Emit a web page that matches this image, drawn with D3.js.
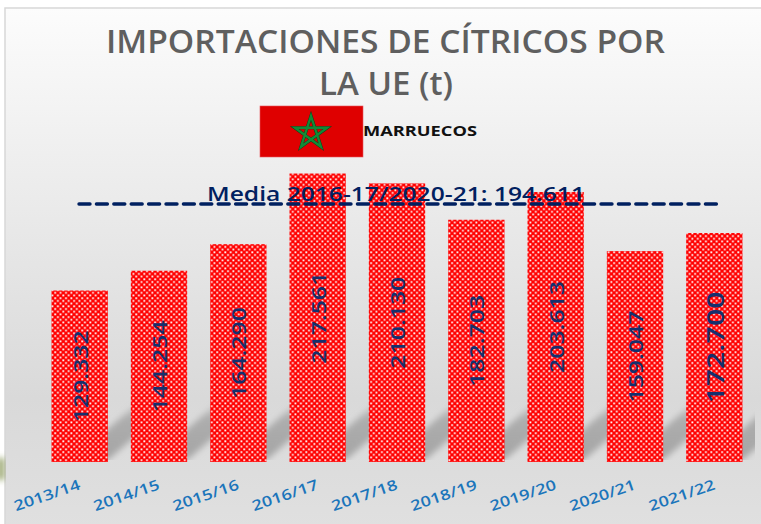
<!DOCTYPE html>
<html><head><meta charset="utf-8">
<script src="https://cdn.jsdelivr.net/npm/d3@7"></script>
<style>html,body{margin:0;padding:0;background:#fff;overflow:hidden}svg{display:block}
text{font-family:"Open Sans",sans-serif}</style></head>
<body><svg id="c" width="761" height="524"></svg>
<script>
const categories=["2013/14","2014/15","2015/16","2016/17","2017/18","2018/19","2019/20","2020/21","2021/22"];
const values=[129332,144254,164290,217561,210130,182703,203613,159047,172700];
const valueLabels=["129.332","144.254","164.290","217.561","210.130","182.703","203.613","159.047","172.700"];
const mediaValue=194611;
const mediaLabel="Media 2016-17/2020-21: 194.611";
const titleLines=["IMPORTACIONES DE CÍTRICOS POR","LA UE (t)"];
const countryLabel="MARRUECOS";

const svg=d3.select("#c");
const defs=svg.append("defs");
const bg=defs.append("linearGradient").attr("id","bg").attr("x1",0).attr("x2",0).attr("y1",0).attr("y2",1);
bg.append("stop").attr("offset","0").attr("stop-color","#fcfcfc");
bg.append("stop").attr("offset","0.75").attr("stop-color","#d9d9d9");
bg.append("stop").attr("offset","1").attr("stop-color","#e0e0e0");
const pat=defs.append("pattern").attr("id","dots").attr("patternUnits","userSpaceOnUse").attr("width",5.4).attr("height",5.4);
pat.append("rect").attr("width",5.4).attr("height",5.4).attr("fill","#ff0000");
pat.append("rect").attr("x",0.3).attr("y",0.3).attr("width",1.8).attr("height",1.8).attr("fill","#fff");
pat.append("rect").attr("x",3).attr("y",3).attr("width",1.8).attr("height",1.8).attr("fill","#fff");
defs.append("filter").attr("id","blur").attr("x","-30%").attr("y","-30%").attr("width","160%").attr("height","160%")
  .append("feGaussianBlur").attr("stdDeviation",3);
const sg=defs.append("linearGradient").attr("id","sh").attr("x1",0).attr("x2",0).attr("y1",1).attr("y2",0);
sg.append("stop").attr("offset","0").attr("stop-color","#a2a2a2").attr("stop-opacity",.95);
sg.append("stop").attr("offset","0.7").attr("stop-color","#a2a2a2").attr("stop-opacity",.8);
sg.append("stop").attr("offset","1").attr("stop-color","#a2a2a2").attr("stop-opacity",.1);
defs.append("clipPath").attr("id","shclip").append("rect").attr("x",5).attr("y",380).attr("width",750).attr("height",80);

// panel
svg.append("rect").attr("x",5).attr("y",8).attr("width",760).attr("height",520)
  .attr("fill","url(#bg)").attr("stroke","#d8d8d8").attr("stroke-width",1.5);

const x=d3.scaleBand().domain(categories).range([40,754]).paddingInner(0.29).paddingOuter(0.145);
const y=d3.scaleLinear().domain([0,220000]).range([462,170.3]);

// floor shadows
const sdx=70, sdy=60;
svg.append("g").attr("clip-path","url(#shclip)").selectAll("path").data(categories).join("path")
  .attr("d",c=>{const b=x(c)+20,a=x(c)+x.bandwidth();
    return `M${b},${y(0)-2}L${a},${y(0)-2}L${a+sdx},${y(0)-2-sdy}L${b+sdx},${y(0)-2-sdy}Z`;})
  .attr("fill","url(#sh)").attr("filter","url(#blur)");

// bars
svg.append("g").selectAll("rect").data(values).join("rect")
  .attr("x",(d,i)=>x(categories[i])).attr("width",x.bandwidth())
  .attr("y",d=>y(d)).attr("height",d=>y(0)-y(d)).attr("fill","url(#dots)");

// value labels
const labelSize=[19,19,19,19,19,19,19,19,23];
const labelLength=[92,92,92,92,92,92,92,92,112];
svg.append("g").selectAll("text").data(valueLabels).join("text")
  .attr("transform",(d,i)=>`translate(${x(categories[i])+x.bandwidth()/2+1},${(y(0)+y(values[i]))/2})rotate(-90)`)
  .attr("text-anchor","middle").attr("dy","0.36em")
  .attr("font-size",(d,i)=>labelSize[i]).attr("font-weight",600).attr("fill","#14306e")
  .attr("textLength",(d,i)=>labelLength[i]).attr("lengthAdjust","spacingAndGlyphs").text(d=>d);

// axis labels
svg.append("g").selectAll("text").data(categories).join("text")
  .attr("transform",c=>`translate(${x(c)+x.bandwidth()/2-31},500)rotate(-19)`)
  .attr("text-anchor","middle").attr("font-size",14.5).attr("font-weight",600).attr("fill","#1b75bb")
  .attr("textLength",69).attr("lengthAdjust","spacingAndGlyphs").text(c=>c);

// media line
svg.append("line").attr("x1",79).attr("x2",717).attr("y1",y(mediaValue)).attr("y2",y(mediaValue))
  .attr("stroke","#002060").attr("stroke-width",3.4).attr("stroke-linecap","round").attr("stroke-dasharray","11 6.4");
svg.append("text").attr("x",396).attr("y",201).attr("text-anchor","middle").attr("font-size",20).attr("font-weight",600)
  .attr("fill","#002060").attr("textLength",378).attr("lengthAdjust","spacingAndGlyphs").text(mediaLabel);

// title
svg.append("text").attr("x",385.5).attr("y",53).attr("text-anchor","middle").attr("font-size",32.5).attr("font-weight",600)
  .attr("fill","#5f5f5f").attr("textLength",559).attr("lengthAdjust","spacingAndGlyphs").text(titleLines[0]);
svg.append("text").attr("x",386).attr("y",95).attr("text-anchor","middle").attr("font-size",32.5).attr("font-weight",600)
  .attr("fill","#5f5f5f").attr("textLength",134).attr("lengthAdjust","spacingAndGlyphs").text(titleLines[1]);

// flag
const f=svg.append("g");
f.append("rect").attr("x",260).attr("y",106).attr("width",103).attr("height",51).attr("fill","#df0000").attr("stroke","#e8555a").attr("stroke-width",.6);
const star=d3.range(5).map(i=>{const t=-Math.PI/2+i*2*2*Math.PI/5;return [311+17*Math.cos(t),133+17*Math.sin(t)];});
f.append("path").attr("d","M"+star.map(p=>p.join(",")).join("L")+"Z")
  .attr("fill","none").attr("stroke","#0b3d1a").attr("stroke-width",3.2).attr("stroke-linejoin","miter");
f.append("path").attr("d","M"+star.map(p=>p.join(",")).join("L")+"Z")
  .attr("fill","none").attr("stroke","#138a36").attr("stroke-width",2.4).attr("stroke-linejoin","miter");

svg.append("text").attr("x",363).attr("y",136).attr("font-size",15).attr("font-weight",700).attr("fill","#111")
  .attr("textLength",114).attr("lengthAdjust","spacingAndGlyphs").text(countryLabel);

// stray photo fragment at left edge
svg.append("rect").attr("x",-2).attr("y",458).attr("width",6).attr("height",22).attr("fill","#8a9a5c").attr("filter","url(#blur)");
</script></body></html>
